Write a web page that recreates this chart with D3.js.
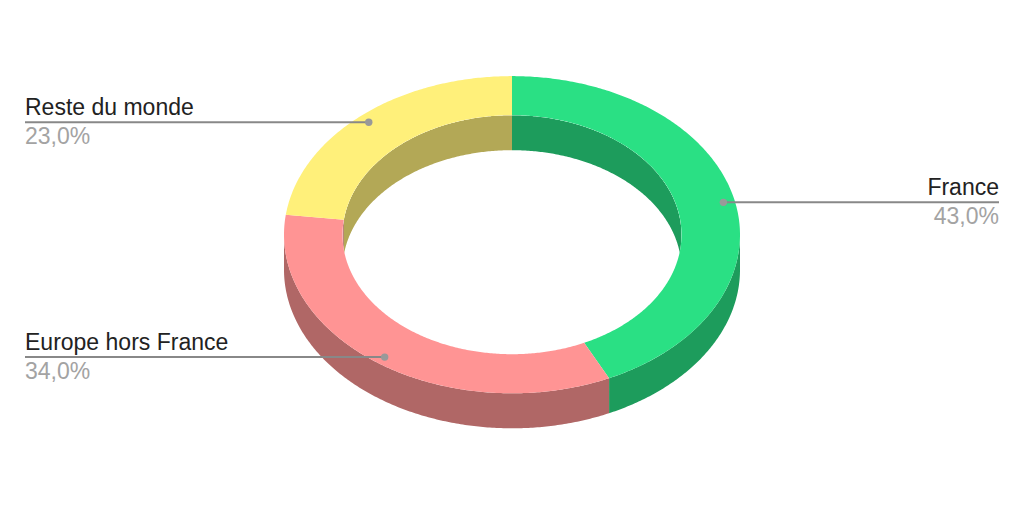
<!DOCTYPE html>
<html><head><meta charset="utf-8">
<script src="https://cdn.jsdelivr.net/npm/d3@7"></script>
<style>html,body{margin:0;padding:0;background:#fff}svg{display:block}</style>
</head><body><svg id="c" width="1024" height="505"></svg>
<script>
const categories = ["France", "Europe hors France", "Reste du monde"];
const values = [43.0, 34.0, 23.0];
const valueLabels = ["43,0%", "34,0%", "23,0%"];
const topColors = ["#2ae084", "#ff9494", "#fff07a"];
const wallColors = ["#1d9c5c", "#b06766", "#b3a856"];

const W = 1024, H = 505, cx = 512, cy = 234.7;
const outer = {rx: 228, ry: 158.6}, inner = {rx: 169.5, ry: 119.5}, depth = 35;
const svg = d3.select("#c");
const pie = d3.pie().sort(null).value(d => d)(values);
const TAU = Math.PI * 2;

const pt = (e, a, dy = 0) => [cx + e.rx * Math.sin(a), cy + dy - e.ry * Math.cos(a)];
const arcPts = (e, a0, a1, dy = 0) => {
  const n = Math.max(2, Math.ceil(Math.abs(a1 - a0) / 0.01));
  return d3.range(n + 1).map(i => pt(e, a0 + (a1 - a0) * i / n, dy));
};
const line = d3.line();
const closed = pts => line(pts) + "Z";

// clip for the hole
const defs = svg.append("defs");
defs.append("clipPath").attr("id", "hole").append("path")
  .attr("d", closed(arcPts(inner, 0, TAU)));

// outer wall: front half
svg.append("g").selectAll("path").data(pie).join("path")
  .attr("d", d => {
    const a0 = Math.max(d.startAngle, Math.PI / 2), a1 = Math.min(d.endAngle, 3 * Math.PI / 2);
    if (a1 <= a0) return null;
    return closed(arcPts(outer, a0, a1).concat(arcPts(outer, a1, a0, depth)));
  })
  .attr("fill", (d, i) => wallColors[i]);

// inner wall: back half, seen through the hole
const wall = svg.append("g").attr("clip-path", "url(#hole)");
const backParts = [];
pie.forEach((d, i) => {
  [[-TAU, 0], [0, TAU]].forEach(([off]) => {
    const lo = d.startAngle + off, hi = d.endAngle + off;
    const a0 = Math.max(lo, -Math.PI / 2), a1 = Math.min(hi, Math.PI / 2);
    if (a1 > a0) backParts.push({a0, a1, i});
  });
});
wall.selectAll("path").data(backParts).join("path")
  .attr("d", d => closed(arcPts(inner, d.a0, d.a1).concat(arcPts(inner, d.a1, d.a0, depth))))
  .attr("fill", d => wallColors[d.i]);

// top face
svg.append("g").selectAll("path").data(pie).join("path")
  .attr("d", d => closed(arcPts(outer, d.startAngle, d.endAngle).concat(arcPts(inner, d.endAngle, d.startAngle))))
  .attr("fill", (d, i) => topColors[i]);

// labels
const leftX = 25, rightX = 999, ratio = 0.95;
const mid = {rx: outer.rx * ratio, ry: outer.ry * ratio};
const lab = svg.append("g").style("font-family", "'Liberation Sans', Arial, sans-serif").style("font-size", "23px");
pie.forEach((d, i) => {
  const a = (d.startAngle + d.endAngle) / 2;
  const [x, y0] = pt(mid, a);
  const y = y0 + 0.5;
  const right = a < Math.PI;
  const tx = right ? rightX : leftX;
  lab.append("line").attr("x1", tx).attr("x2", x).attr("y1", y).attr("y2", y)
    .attr("stroke", "#888").attr("stroke-width", 2);
  lab.append("circle").attr("cx", x).attr("cy", y).attr("r", 3.7).attr("fill", "#999");
  lab.append("text").attr("x", tx).attr("y", y - 7.5).attr("text-anchor", right ? "end" : "start")
    .attr("fill", "#222").text(categories[i]);
  lab.append("text").attr("x", tx).attr("y", y + 22).attr("text-anchor", right ? "end" : "start")
    .attr("fill", "#a3a3a3").text(valueLabels[i]);
});
</script></body></html>
